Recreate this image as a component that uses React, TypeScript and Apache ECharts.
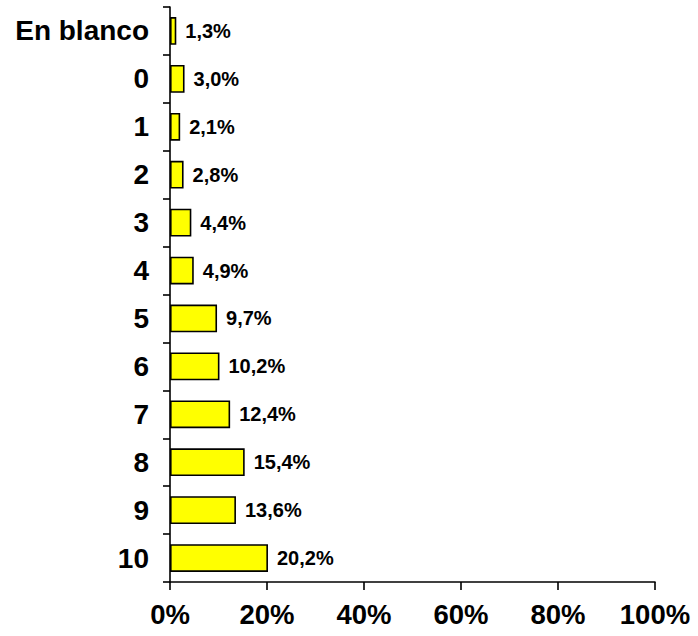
import React, { useEffect, useRef } from "react";
import * as echarts from "echarts";

const categories = ["En blanco", "0", "1", "2", "3", "4", "5", "6", "7", "8", "9", "10"];
const values = [1.3, 3.0, 2.1, 2.8, 4.4, 4.9, 9.7, 10.2, 12.4, 15.4, 13.6, 20.2];
const xTicks = [0, 20, 40, 60, 80, 100];

const FONT = "'Liberation Sans', Arial, Helvetica, sans-serif";

export default function App() {
  const ref = useRef<HTMLDivElement>(null);
  useEffect(() => {
    if (!ref.current) return;
    const chart = echarts.init(ref.current, null, { renderer: "svg" });
    chart.setOption({
      animation: false,
      backgroundColor: "#ffffff",
      grid: { left: 170, right: 43, top: 7, bottom: 54, containLabel: false },
      xAxis: {
        type: "value",
        min: xTicks[0],
        max: xTicks[xTicks.length - 1],
        interval: 20,
        splitLine: { show: false },
        axisLine: { show: true, lineStyle: { color: "#000", width: 1.6 } },
        axisTick: { show: true, inside: false, length: 8, lineStyle: { color: "#000", width: 1.6 } },
        axisLabel: {
          formatter: (v: number) => `${v}%`,
          color: "#000",
          fontFamily: FONT,
          fontWeight: "bold",
          fontSize: 27.5,
          margin: 18,
        },
      },
      yAxis: {
        type: "category",
        inverse: true,
        data: categories,
        axisLine: { show: true, lineStyle: { color: "#000", width: 1.6 } },
        axisTick: { show: true, length: 7, lineStyle: { color: "#000", width: 1.6 } },
        axisLabel: {
          color: "#000",
          fontFamily: FONT,
          fontWeight: "bold",
          fontSize: 28,
          margin: 21,
          padding: [4, 0, 0, 0],
        },
      },
      series: [
        {
          type: "bar",
          data: values,
          barCategoryGap: "42%",
          itemStyle: { color: "#ffff00", borderColor: "#000", borderWidth: 1.6 },
          label: {
            show: true,
            position: "right",
            distance: 9,
            color: "#000",
            fontFamily: FONT,
            fontWeight: "bold",
            fontSize: 20,
            formatter: (p: any) => `${p.value.toFixed(1).replace(".", ",")}%`,
          },
        },
      ],
    });
    return () => chart.dispose();
  }, []);
  return (
    <div
      ref={ref}
      style={{ position: "fixed", left: 0, top: 0, width: 698, height: 636, background: "#fff" }}
    />
  );
}
